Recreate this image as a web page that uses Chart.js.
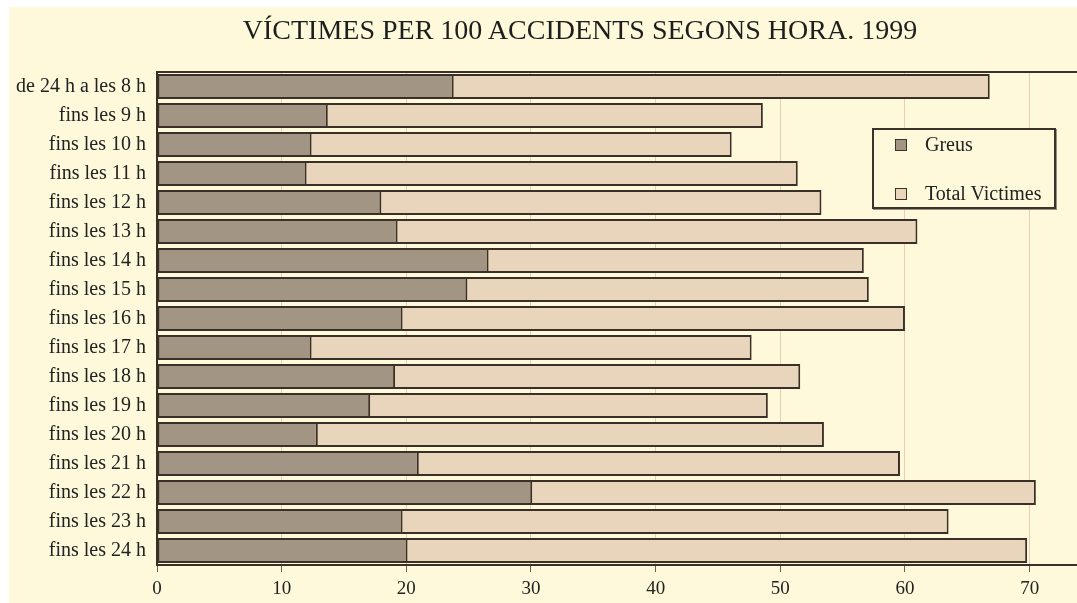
<!DOCTYPE html>
<html><head><meta charset="utf-8">
<script src="https://cdn.jsdelivr.net/npm/chart.js@4.4.1/dist/chart.umd.min.js"></script>
<style>
html,body{margin:0;padding:0;background:#ffffff;}
#wrap{position:relative;width:1077px;height:603px;overflow:hidden;}
#bg{position:absolute;left:9px;top:7px;right:0;bottom:0;background:#FFF9DB;}
#c{position:absolute;left:0;top:0;}
#title{position:absolute;left:0;width:1160px;top:14px;text-align:center;font:28px "Liberation Serif",serif;color:#1e1e1e;white-space:nowrap;}
#legend{position:absolute;left:872px;top:128px;width:180px;height:77px;border:2px solid #3a332c;box-shadow:1px 1px 0 #9a8e80;background:#FFF9DB;font:20px "Liberation Serif",serif;color:#222;}
.item{position:absolute;left:21px;height:20px;line-height:20px;white-space:nowrap;}
.sw{position:absolute;left:0;top:4px;width:10px;height:10px;border:1.5px solid #3a332c;}
.lt{position:absolute;left:30px;top:-1px;}
</style></head>
<body>
<div id="wrap">
<div id="bg"></div>
<canvas id="c" width="1077" height="603"></canvas>
<div id="title"></div>
<div id="legend"></div>
</div>
<script>
const titleText = "VÍCTIMES PER 100 ACCIDENTS SEGONS HORA. 1999";
const categories = ["de 24 h a les 8 h","fins les 9 h","fins les 10 h","fins les 11 h","fins les 12 h","fins les 13 h","fins les 14 h","fins les 15 h","fins les 16 h","fins les 17 h","fins les 18 h","fins les 19 h","fins les 20 h","fins les 21 h","fins les 22 h","fins les 23 h","fins les 24 h"];
const greus = [23.8,13.7,12.4,12.0,18.0,19.3,26.6,24.9,19.7,12.4,19.1,17.1,12.9,21.0,30.1,19.7,20.1];
const totalVictimes = [66.8,48.6,46.1,51.4,53.3,61.0,56.7,57.1,60.0,47.7,51.6,49.0,53.5,59.6,70.5,63.5,69.8];
const seriesNames = ["Greus","Total Victimes"];
const xTicks = [0,10,20,30,40,50,60,70];

const colGreus = "#A39584";
const colTotal = "#E9D5BB";
const colBorder = "#3a3028";

document.getElementById('title').textContent = titleText;

const frame = {
  id:'frame',
  beforeDatasetsDraw(chart){
    const {ctx, chartArea:a} = chart;
    ctx.save();
    ctx.strokeStyle = colBorder;
    ctx.lineWidth = 2;
    ctx.beginPath();
    ctx.moveTo(a.left, a.top);
    ctx.lineTo(a.right, a.top);
    ctx.stroke();
    ctx.restore();
  }
};

const chart = new Chart(document.getElementById('c'), {
  type:'bar',
  data:{
    labels:categories,
    datasets:[
      {label:seriesNames[0], data:greus, backgroundColor:colGreus, borderColor:colBorder, borderWidth:2, borderSkipped:false},
      {label:seriesNames[1], data:totalVictimes, backgroundColor:colTotal, borderColor:colBorder, borderWidth:2, borderSkipped:false}
    ]
  },
  options:{
    indexAxis:'y',
    responsive:false,
    animation:false,
    layout:{padding:{top:72,left:0,right:0,bottom:0}},
    datasets:{bar:{grouped:false, categoryPercentage:1, barPercentage:0.86}},
    plugins:{legend:{display:false}, title:{display:false}, tooltip:{enabled:false}},
    scales:{
      x:{
        min:0, max:73.8,
        afterBuildTicks(s){ s.ticks = xTicks.map(v=>({value:v})); },
        afterFit(s){ s.height = 38; },
        grid:{color:'#EBCBBB', lineWidth:1, drawTicks:true, tickLength:7, tickColor:'#6b6055'},
        border:{display:true, color:colBorder, width:2},
        ticks:{font:{family:'"Liberation Serif", serif', size:19}, color:'#222', padding:6}
      },
      y:{
        afterFit(s){ s.width = 157; },
        grid:{display:false, drawTicks:false},
        border:{display:true, color:colBorder, width:2},
        ticks:{font:{family:'"Liberation Serif", serif', size:20}, color:'#222', padding:11, autoSkip:false}
      }
    }
  },
  plugins:[frame]
});

// legend from datasets
const lg = document.getElementById('legend');
const tops = [5,54];
chart.data.datasets.forEach((ds,i)=>{
  const it = document.createElement('div');
  it.className='item';
  it.style.top = tops[i]+'px';
  const sw = document.createElement('span'); sw.className='sw'; sw.style.background = ds.backgroundColor;
  const t = document.createElement('span'); t.className='lt'; t.textContent = ds.label;
  it.appendChild(sw); it.appendChild(t); lg.appendChild(it);
});
</script>
</body></html>
